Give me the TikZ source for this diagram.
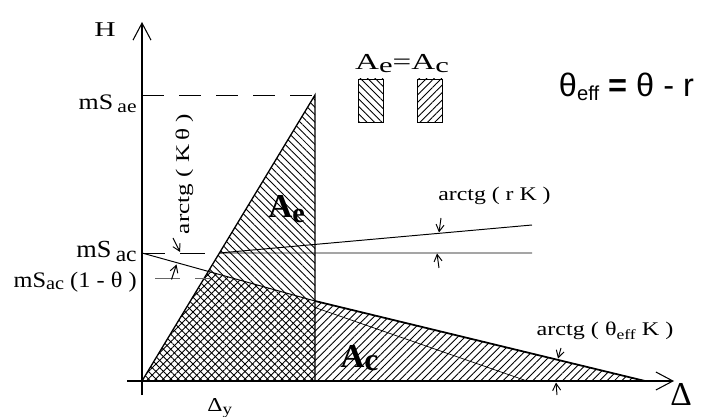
\documentclass[tikz,border=0pt]{standalone}
\usepackage{fontspec}
\setmainfont{Liberation Serif}
\newfontfamily\sansfont{Liberation Sans}
\usepackage{graphicx}
\usetikzlibrary{arrows.meta, patterns.meta}

\newcommand{\xwide}[2]{\scalebox{#1}[1]{#2}}
\newcommand{\lowsub}[3]{\raisebox{-#1}{\fontsize{#2}{#2}\selectfont #3}}

\begin{document}
\begin{tikzpicture}[
        axisarr/.style={line width=0.6pt, -{Straight Barb[length=3.4mm, width=3.6mm]}},
        rim/.style={line width=0.75pt},
        thinl/.style={line width=0.55pt},
        angarr/.style={line width=0.55pt, -{Straight Barb[length=1.4mm, width=1.6mm]}},
        lbl/.style={inner sep=0pt, font=\fontsize{11}{13}\selectfont},
        hatche/.style={pattern={Lines[angle=-45, distance=1.05mm, line width=0.5pt]}},
        hatchc/.style={pattern={Lines[angle=45, distance=1.05mm, line width=0.5pt]}}
    ]
        \useasboundingbox (-2.84,-0.7) rectangle (11.2,7.62);

        % points of the diagram
        \coordinate (O) at (0,0);
        \coordinate (T) at (3.46,5.72);
        \coordinate (B) at (3.46,0);
        \coordinate (Sae) at (0,5.72);
        \coordinate (Sac) at (0,2.56);
        \coordinate (Hr) at (7.8,2.56);
        \coordinate (Rk) at (7.8,3.12);
        \coordinate (C1) at (3.46,1.60);
        \coordinate (Ctip) at (10.06,0);
        \coordinate (Th) at (3.46,1.47);
        \coordinate (Thend) at (7.7,0);
        \coordinate (P1) at (intersection of O--T and Sac--Hr);
        \coordinate (P2) at (intersection of O--T and Sac--C1);

        % hatched areas
        \fill[hatche] (O) -- (T) -- (B) -- cycle;
        \fill[hatchc] (O) -- (P2) -- (C1) -- (Ctip) -- cycle;

        % axes
        \coordinate (Hbot) at (0,-0.28);
        \coordinate (Htop) at (0,7.18);
        \coordinate (Lleft) at (-0.3,0);
        \coordinate (Lright) at (10.64,0);
        \draw[axisarr] (Hbot) -- (Htop);
        \draw[axisarr] (Lleft) -- (Lright);

        % lines
        \draw[thinl, dash pattern=on 4.4mm off 3mm] (Sae) -- (T);
        \draw[rim] (O) -- (T) -- (B);
        \draw[thinl] (Sac) -- (C1);
        \draw[rim, line width=1pt] (C1) -- (Ctip);
        \draw[thinl, line width=0.4pt] (Th) -- (Thend);
        \draw[thinl] (P1) -- (Hr);
        \draw[thinl] (P1) -- (Rk);

        % short guide lines
        \draw[thinl] (Sac) -- ++(0.46,0);
        \draw[thinl] (0.76,2.56) -- ++(0.5,0);
        \draw[thinl, black!60] (0.26,2.06) -- ++(0.5,0);
        \draw[thinl, black!60] (1.06,2.06) -- ++(0.32,0);

        % angle marks
        \draw[angarr] (0.62,2.86) -- (0.76,2.58);
        \draw[angarr] (0.59,2.03) -- (0.69,2.33);
        \draw[angarr] (5.98,3.26) -- (5.94,2.97);
        \draw[angarr] (5.94,2.26) -- (5.90,2.55);
        \draw[angarr] (8.38,0.66) -- (8.32,0.45);
        \draw[angarr] (8.30,-0.28) -- (8.28,-0.03);

        % axis labels
        \node[lbl, anchor=base east, font=\fontsize{12}{13}\selectfont] (H) at (-0.52,6.89) {\xwide{1.4}{H}};
        \node[lbl, anchor=base, font=\fontsize{19}{21}\selectfont] (Lam) at (10.78,-0.48) {Δ};
        \node[lbl, anchor=base west, font=\fontsize{11.2}{13}\selectfont] (Dy) at (1.3,-0.6) {\xwide{1.2}{Δ\lowsub{2pt}{9}{y}}};

        % level labels
        \node[lbl, anchor=base east, font=\fontsize{12.6}{14}\selectfont] (mSae) at (-0.1,5.42)
            {\xwide{1.17}{mS\,\lowsub{1.7pt}{10.5}{ae}}};
        \node[lbl, anchor=base east, font=\fontsize{14}{16}\selectfont] (mSac) at (-0.1,2.46)
            {\xwide{1.07}{mS\,\lowsub{1.9pt}{12.5}{ac}}};
        \node[lbl, anchor=base east, font=\fontsize{12.6}{14}\selectfont] (mSac1) at (-0.1,1.86)
            {\xwide{1.1}{mS\lowsub{0.6pt}{10.5}{ac} (1 - θ )}};

        % angle labels
        \node[lbl, rotate=90, anchor=base] (aK) at (0.94,4.14) {\xwide{1.3}{arctg ( K\,θ )}};
        \node[lbl, anchor=base] (arK) at (7.05,3.6) {\xwide{1.23}{arctg ( r K )}};
        \node[lbl, anchor=base] (aeK) at (9.26,0.9) {\xwide{1.25}{arctg ( θ\lowsub{2pt}{8}{eff} K )}};

        % area labels
        \node[lbl, anchor=base west, font=\fontsize{19}{20}\bfseries] (Ae) at (2.52,3.26) {A\lowsub{2.5pt}{16}{e}};
        \node[lbl, anchor=base west, font=\fontsize{19}{20}\bfseries] (Ac) at (3.96,0.28) {A\lowsub{2pt}{18}{c}};

        % legend
        \node[lbl, anchor=base, font=\fontsize{13}{14}\selectfont] (leg) at (5.2,6.22)
            {\xwide{1.45}{A\lowsub{1.5pt}{12}{e}=A\lowsub{1.5pt}{12}{c}}};
        \node[draw, thinl, hatche, minimum width=5mm, minimum height=8.6mm, inner sep=0pt] (boxe) at (4.57,5.61) {};
        \node[draw, thinl, hatchc, minimum width=5mm, minimum height=8.6mm, inner sep=0pt] (boxc) at (5.75,5.61) {};
        \node[lbl, anchor=base, font=\sansfont\fontsize{18.5}{20}\selectfont] (teff) at (9.69,5.68)
            {θ\lowsub{2pt}{11.5}{eff} \textbf{=} θ - r};
    \end{tikzpicture}
\end{document}
